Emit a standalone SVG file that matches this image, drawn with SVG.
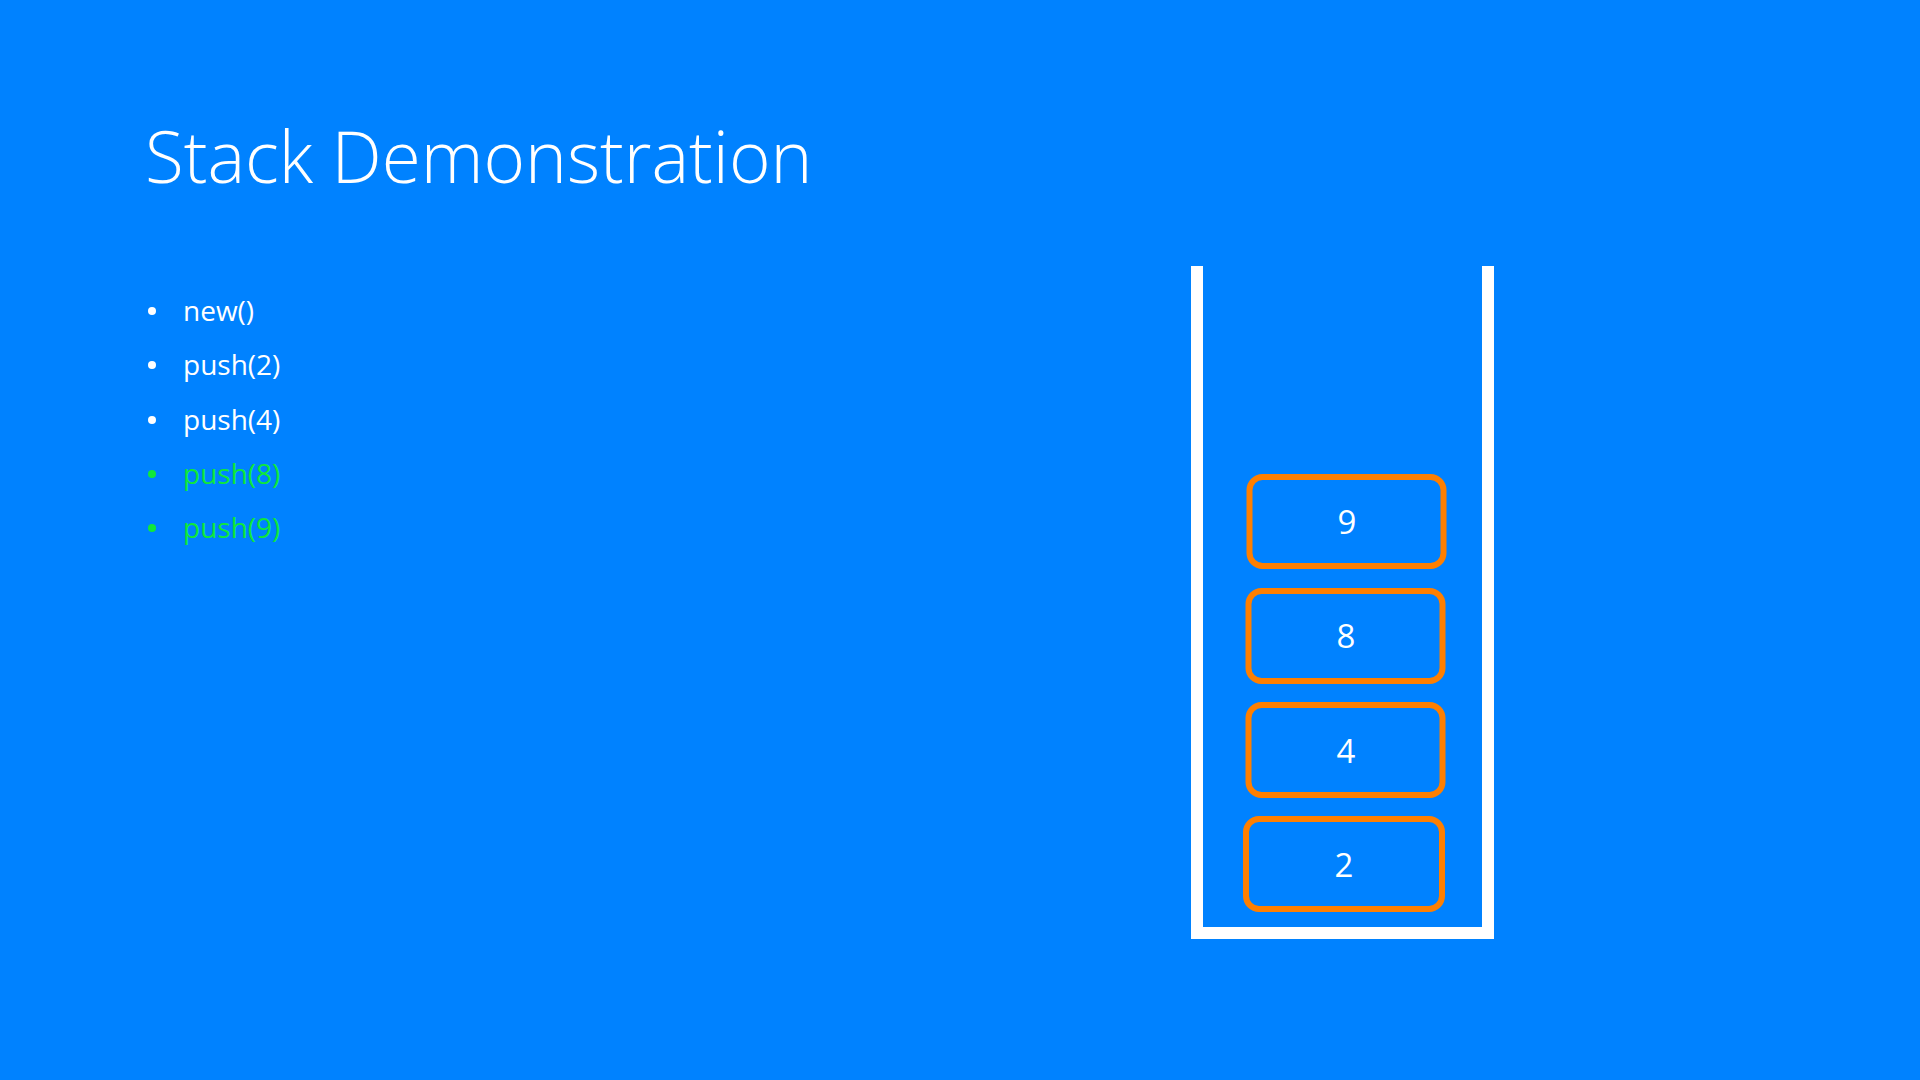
<svg xmlns="http://www.w3.org/2000/svg" width="1920" height="1080" viewBox="0 0 1920 1080">
  <style>
    .title { font-family: "Open Sans", "Liberation Sans", sans-serif; font-weight: 300; font-size: 71px; fill: #ffffff; }
    .item { font-family: "Open Sans", "Liberation Sans", sans-serif; font-size: 28px; fill: #ffffff; }
    .item.new { fill: #10e83a; }
    .dot { fill: #ffffff; }
    .dot.new { fill: #10e83a; }
    .wall { fill: #ffffff; }
    .cell rect { fill: none; stroke: #ff7f00; stroke-width: 6; }
    .cell text { font-family: "Open Sans", "Liberation Sans", sans-serif; font-size: 33px; fill: #ffffff; text-anchor: middle; }
  </style>

  <!-- background -->
  <rect x="0" y="0" width="1920" height="1080" fill="#0082ff"/>

  <!-- heading -->
  <text class="title" x="145" y="183">Stack Demonstration</text>

  <!-- operation list -->
  <g id="operations">
    <circle class="dot" cx="152" cy="311" r="4"/>
    <text class="item" x="183" y="321">new()</text>
    <circle class="dot" cx="152" cy="365" r="4"/>
    <text class="item" x="183" y="375">push(2)</text>
    <circle class="dot" cx="152" cy="420" r="4"/>
    <text class="item" x="183" y="430">push(4)</text>
    <circle class="dot new" cx="152" cy="474" r="4"/>
    <text class="item new" x="183" y="484">push(8)</text>
    <circle class="dot new" cx="152" cy="528" r="4"/>
    <text class="item new" x="183" y="538">push(9)</text>
  </g>

  <!-- stack container: two walls and a floor -->
  <g id="container">
    <rect class="wall" x="1191" y="266" width="12" height="673"/>
    <rect class="wall" x="1482" y="266" width="12" height="673"/>
    <rect class="wall" x="1191" y="927" width="303" height="12"/>
  </g>

  <!-- stack cells, bottom to top -->
  <g id="cell-2" class="cell">
    <rect x="1246" y="819" width="196" height="90" rx="13"/>
    <text x="1344" y="877">2</text>
  </g>
  <g id="cell-4" class="cell">
    <rect x="1248.5" y="705" width="194" height="90" rx="13"/>
    <text x="1346" y="763">4</text>
  </g>
  <g id="cell-8" class="cell">
    <rect x="1248.5" y="591" width="194" height="90" rx="13"/>
    <text x="1346" y="648">8</text>
  </g>
  <g id="cell-9" class="cell">
    <rect x="1249.5" y="477" width="194" height="89" rx="13"/>
    <text x="1347" y="534">9</text>
  </g>

  <g id="connectors"/>
</svg>
